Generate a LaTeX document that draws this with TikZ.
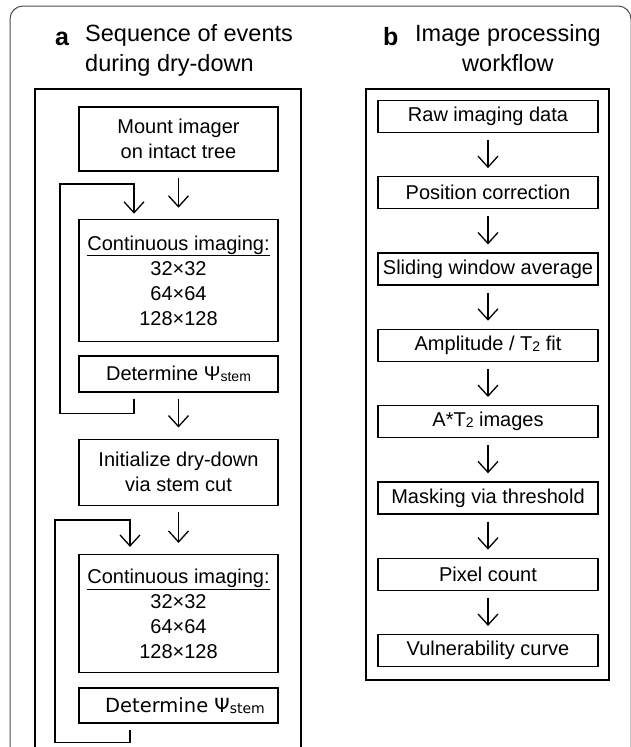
\documentclass[tikz,border=0pt]{standalone}
\usepackage{fontspec}
\setmainfont{Liberation Sans}
\newfontfamily\dejavu{DejaVu Sans}
\usetikzlibrary{positioning,arrows.meta}

\newcommand{\wpsi}{Ψ\raisebox{-1.5pt}{\fontsize{14}{14}\selectfont stem}}
\newcommand{\Ttwo}{T\raisebox{-1pt}{\fontsize{14}{14}\selectfont 2}}

\tikzset{
  box/.style={draw, line width=1.4pt, minimum width=199pt, inner sep=2pt,
              align=center, font=\fontsize{20}{25}\selectfont},
  wbox/.style={draw, line width=1.3pt, minimum width=220pt, minimum height=32pt,
               inner sep=2pt, font=\fontsize{20}{24}\selectfont},
  flow/.style={-{Straight Barb[length=11pt,width=20pt]}, line width=1.3pt,
               shorten <=6pt, shorten >=11pt},
  bflow/.style={flow, shorten <=7pt, shorten >=8pt},
  back/.style={-{Straight Barb[length=11pt,width=20pt]}, line width=1.3pt},
  title/.style={font=\fontsize{23.5}{30}\selectfont, inner sep=0pt},
  letter/.style={font=\bfseries\fontsize{25}{25}\selectfont, inner sep=0pt, anchor=base west},
}

\begin{document}
\begin{tikzpicture}[x=1pt,y=-1pt]
\useasboundingbox (0,0) rectangle (630,747);
% outer frame
\draw[line width=1pt, black!70, rounded corners=13pt] (10,760) -- (10,6) -- (631,6) -- (631,760);

% panel a
\draw[line width=1.4pt] (35,760) |- (301,89) -- (301,760);
\node[letter] (la) at (55,45) {a};
\node[title, align=left, anchor=base west] (ta) at (85,71) {Sequence of events\\during dry-down};

\node[box, minimum height=64pt] (mount) at (178.5,139) {Mount imager\\on intact tree};
\node[box, minimum height=122pt, below=47pt of mount] (cont1)
  {\underline{Continuous imaging:}\\32×32\\64×64\\128×128};
\node[box, minimum height=36pt, below=13pt of cont1] (det1) {Determine \wpsi};
\node[box, minimum height=66pt, below=46pt of det1] (init) {Initialize dry-down\\via stem cut};
\node[box, minimum height=118pt, below=48pt of init] (cont2)
  {\underline{Continuous imaging:}\\32×32\\64×64\\128×128};
\node[box, minimum height=35pt, below=14pt of cont2, font=\dejavu\fontsize{19.5}{24}\selectfont] (det2)
  {\hspace{13pt}Determine \wpsi};

\draw[flow] (mount) -- (cont1);
\draw[flow] (det1) -- (init);
\draw[flow] (init) -- (cont2);
% repeat loops
\draw[back] ([shift={(-44.5,6)}]det1.south) -- ++(0,15) -| (60,184)
  -| ([shift={(-44.5,-5)}]cont1.north);
\draw[back] ([shift={(-48.5,6)}]det2.south) -- ++(0,13) -| (55,520)
  -| ([shift={(-48.5,-7)}]cont2.north);

% panel b
\draw[line width=1.4pt] (366,89) rectangle (609,680);
\node[letter] (lb) at (383,45) {b};
\node[title, align=center, anchor=base west] (tb) at (415,71) {Image processing\\workflow};

\matrix[row sep=43pt, nodes={wbox}] at (488,383.5)
{ \node(raw)   {Raw imaging data};        \\
  \node(pos)   {Position correction};     \\
  \node(slide) {Sliding window average};  \\
  \node(fit)   {Amplitude / \Ttwo{} fit}; \\
  \node(img)   {A*\Ttwo{} images};        \\
  \node(mask)  {Masking via threshold};   \\
  \node(count) {Pixel count};             \\
  \node(curve) {Vulnerability curve};     \\};
\draw[bflow] (raw) -- (pos);
\draw[bflow] (pos) -- (slide);
\draw[bflow] (slide) -- (fit);
\draw[bflow] (fit) -- (img);
\draw[bflow] (img) -- (mask);
\draw[bflow] (mask) -- (count);
\draw[bflow] (count) -- (curve);
\end{tikzpicture}
\end{document}
